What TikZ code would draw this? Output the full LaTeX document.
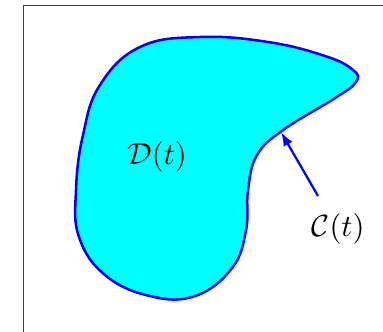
\documentclass[tikz,border=0pt]{standalone}
\usetikzlibrary{arrows.meta}
\definecolor{regionfill}{RGB}{0,255,255}
\definecolor{regionline}{RGB}{0,0,255}
\begin{document}
\begin{tikzpicture}[x=0.357pt,y=-0.357pt,
  region/.style={draw=regionline,fill=regionfill,line width=0.9pt},
  pointer/.style={draw=regionline,line width=0.8pt,-{Latex[length=5pt,width=3.6pt]}},
  lbl/.style={font=\fontsize{11}{13}\selectfont},
  framebox/.style={draw=black!75,line width=0.4pt}]
\useasboundingbox (0,0) rectangle (383,332);
\clip (0,0) rectangle (383,332);
\draw[framebox] (23.5,400) -- (23.5,5.5) -- (400,5.5);
\draw[region] plot[smooth cycle,tension=0.7] coordinates {
  (200,37) (268,42) (325,56) (353,70) (356,82) (335,98)
  (283,130) (257,155) (248,190) (246,230) (232,268)
  (195,296) (150,296) (105,275) (79,237) (76,190) (83,135)
  (100,85) (140,47)};
\node[lbl] (d) at (157,157) {$\mathcal{D}(t)$};
\node[lbl] (c) at (338,229) {$\mathcal{C}(t)$};
\coordinate (s) at (318,196);
\coordinate (e) at (281,132);
\draw[pointer] (s) -- (e);
\end{tikzpicture}
\end{document}
